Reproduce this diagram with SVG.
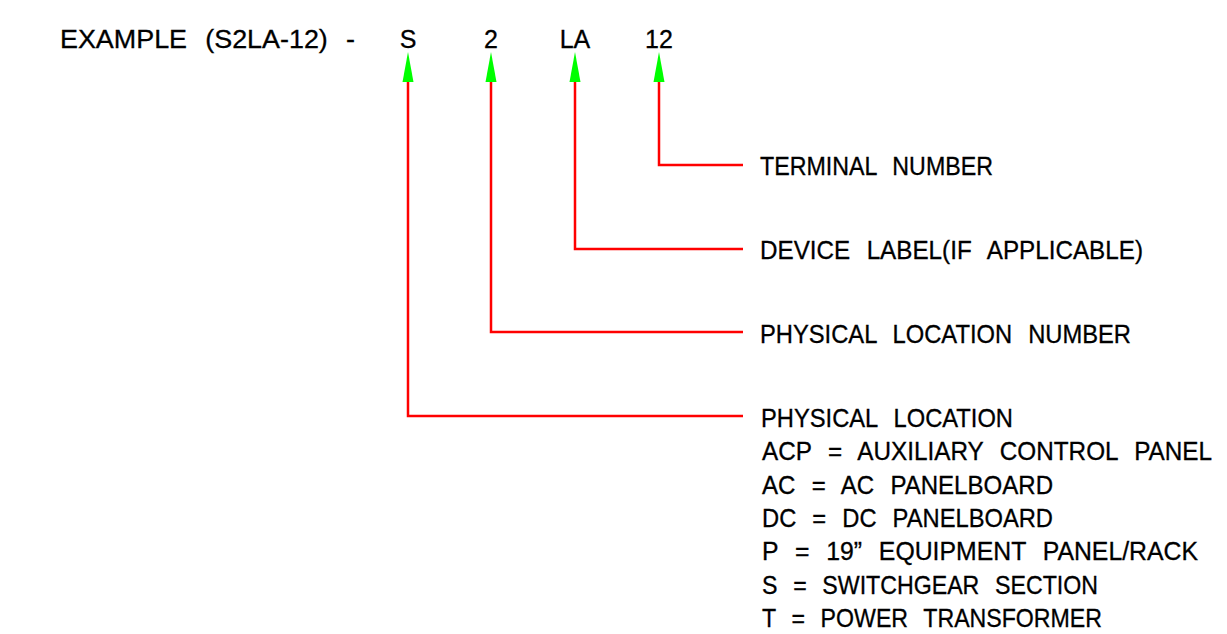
<svg xmlns="http://www.w3.org/2000/svg" width="1227" height="634" viewBox="0 0 1227 634">
<style>
.t{font-family:"Liberation Sans",Arial,sans-serif;font-size:25px;fill:#000;word-spacing:10px;stroke:#000;stroke-width:0.3}
.c{fill:none;stroke:#ff0000;stroke-width:2.5}
.a{fill:#00ff00;stroke:none}
</style>
<rect width="1227" height="634" fill="#fff"/>
<g id="header">
<text class="t" x="60" y="48" textLength="295" lengthAdjust="spacingAndGlyphs">EXAMPLE (S2LA-12) -</text>
<text class="t" x="408" y="48" text-anchor="middle">S</text>
<text class="t" x="491" y="48" text-anchor="middle">2</text>
<text class="t" x="575" y="48" text-anchor="middle">LA</text>
<text class="t" x="659" y="48" text-anchor="middle">12</text>
</g>
<g id="connectors">
<polyline class="c" points="659,82 659,165 743,165"/>
<polyline class="c" points="575,82 575,249 743,249"/>
<polyline class="c" points="491,82 491,332 743,332"/>
<polyline class="c" points="408,82 408,416 743,416"/>
<polygon class="a" points="659,52 653.5,82 664.5,82"/>
<polygon class="a" points="575,52 569.5,82 580.5,82"/>
<polygon class="a" points="491,52 485.5,82 496.5,82"/>
<polygon class="a" points="408,52 402.5,82 413.5,82"/>
</g>
<g id="terminal-number">
<text class="t" x="760" y="175" textLength="233" lengthAdjust="spacingAndGlyphs">TERMINAL NUMBER</text>
</g>
<g id="device-label">
<text class="t" x="760" y="259" textLength="383" lengthAdjust="spacingAndGlyphs">DEVICE LABEL(IF APPLICABLE)</text>
</g>
<g id="physical-location-number">
<text class="t" x="760" y="343" textLength="371" lengthAdjust="spacingAndGlyphs">PHYSICAL LOCATION NUMBER</text>
</g>
<g id="physical-location">
<text class="t" x="761" y="427" textLength="252" lengthAdjust="spacingAndGlyphs">PHYSICAL LOCATION</text>
<text class="t" x="762" y="460" textLength="450" lengthAdjust="spacingAndGlyphs">ACP = AUXILIARY CONTROL PANEL</text>
<text class="t" x="762" y="494" textLength="291" lengthAdjust="spacingAndGlyphs">AC = AC PANELBOARD</text>
<text class="t" x="762" y="527" textLength="291" lengthAdjust="spacingAndGlyphs">DC = DC PANELBOARD</text>
<text class="t" x="762" y="560" textLength="436" lengthAdjust="spacingAndGlyphs">P = 19” EQUIPMENT PANEL/RACK</text>
<text class="t" x="762" y="594" textLength="336" lengthAdjust="spacingAndGlyphs">S = SWITCHGEAR SECTION</text>
<text class="t" x="762" y="627" textLength="340" lengthAdjust="spacingAndGlyphs">T = POWER TRANSFORMER</text>
</g>
</svg>
